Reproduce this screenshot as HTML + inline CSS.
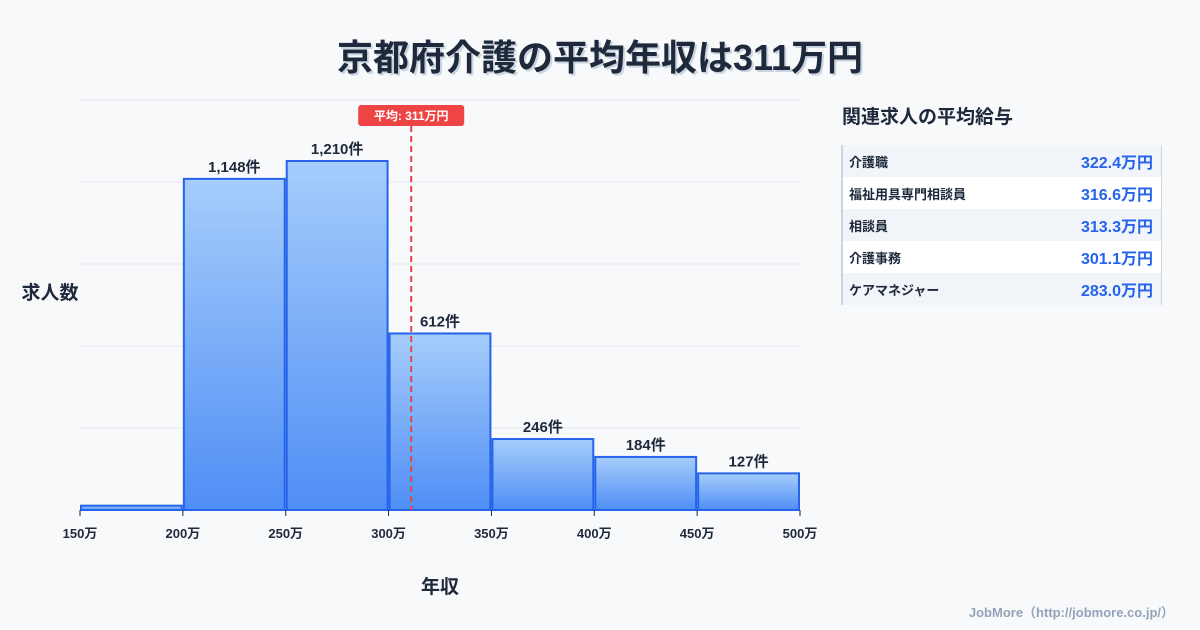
<!DOCTYPE html>
<html><head><meta charset="utf-8">
<style>
body{margin:0;width:1200px;height:630px;background:#f8f9fb;font-family:"Liberation Sans","Noto Sans CJK JP",sans-serif;overflow:hidden;position:relative}
#title{position:absolute;left:0;width:1200px;top:29px;text-align:center;font-size:36px;font-weight:bold;color:#1e293b;text-shadow:2px 2px 0 #cbd5e1}
#side-title{position:absolute;left:842px;top:102px;font-size:19px;font-weight:bold;color:#1e293b}
#tbl{position:absolute;left:841px;top:145px;width:318px;border-left:2px solid #cbd5e1;border-right:1px solid #cbd5e1}
.row{height:32px;display:flex;justify-content:space-between;align-items:center;padding:0 8px 0 6px;font-size:13px;font-weight:bold;color:#1e293b}
.row:nth-child(odd){background:#f1f4f8}.row:nth-child(even){background:#fff}
.row span.v{color:#2563eb;font-size:16px}
#credit{position:absolute;right:26px;top:602px;font-size:13px;font-weight:bold;color:#94a3b8}
</style></head><body>
<div id="title">京都府介護の平均年収は311万円</div>
<svg id="chart" width="820" height="630" style="position:absolute;left:0;top:0">
<defs><linearGradient id="g" x1="0" y1="0" x2="0" y2="1"><stop offset="0" stop-color="#a6cdfb"/><stop offset="1" stop-color="#4f8ef5"/></linearGradient></defs>
<g id="grid"></g><g id="bars"></g><g id="axis"></g><g id="mean"></g>
<text x="50" y="299" text-anchor="middle" font-size="19" font-weight="bold" fill="#1e293b">求人数</text>
<text x="440" y="593" text-anchor="middle" font-size="19" font-weight="bold" fill="#1e293b">年収</text>
</svg>
<div id="side-title">関連求人の平均給与</div>
<div id="tbl">
<div class="row"><span>介護職</span><span class="v">322.4万円</span></div>
<div class="row"><span>福祉用具専門相談員</span><span class="v">316.6万円</span></div>
<div class="row"><span>相談員</span><span class="v">313.3万円</span></div>
<div class="row"><span>介護事務</span><span class="v">301.1万円</span></div>
<div class="row"><span>ケアマネジャー</span><span class="v">283.0万円</span></div>
</div>
<div id="credit">JobMore（http://jobmore.co.jp/）</div>
<script>
const binStarts=[150,200,250,300,350,400,450];
const binWidth=50;
const counts=[15,1148,1210,612,246,184,127];
const countLabels=["","1,148件","1,210件","612件","246件","184件","127件"];
const xTicks=[150,200,250,300,350,400,450,500];
const meanValue=311;
const meanLabel="平均: 311万円";
const NS="http://www.w3.org/2000/svg";
const X0=80,X1=800,Y0=510,YT=100;
const xs=v=>X0+(v-150)/350*(X1-X0);
const ys=v=>Y0-v*(349/1210);
function mk(t,a,p){const e=document.createElementNS(NS,t);for(const k in a)e.setAttribute(k,a[k]);p.appendChild(e);return e;}
const grid=document.getElementById('grid');
for(let i=0;i<=5;i++){const y=Y0-i*82;
const l=mk('line',{x1:X0,x2:X1,y1:y,y2:y,stroke:'#e5e7eb','stroke-width':1},grid);

}
const bars=document.getElementById('bars');
counts.forEach((c,i)=>{const x=xs(binStarts[i])+1,w=xs(binStarts[i]+binWidth)-xs(binStarts[i])-2,y=ys(c);
const r=mk('rect',{x:x,y:y,width:w,height:Y0-y,fill:'url(#g)',stroke:'#2563eb','stroke-width':2},bars);


if(countLabels[i]){const t=mk('text',{x:x+w/2,y:y-7,'text-anchor':'middle','font-size':15,'font-weight':'bold',fill:'#1e293b'},bars);t.textContent=countLabels[i];

}
});
const ax=document.getElementById('axis');
xTicks.forEach(v=>{const x=xs(v);mk('line',{x1:x,x2:x,y1:Y0,y2:Y0+6,stroke:'#1e293b','stroke-width':1},ax);
const t=mk('text',{x:x,y:Y0+28,'text-anchor':'middle','font-size':13,'font-weight':'bold',fill:'#1e293b'},ax);t.textContent=v+'万';

});
const mg=document.getElementById('mean');const mx=xs(meanValue);
const ml=mk('line',{x1:mx,x2:mx,y1:126,y2:Y0,stroke:'#e0474c','stroke-width':2,'stroke-dasharray':'6,4'},mg);


const mr=mk('rect',{x:mx-53,y:105,width:106,height:21,rx:3,fill:'#ef4444'},mg);


const mt=mk('text',{x:mx,y:120,'text-anchor':'middle','font-size':12,'font-weight':'bold',fill:'#fff'},mg);mt.textContent=meanLabel;


</script>
</body></html>
